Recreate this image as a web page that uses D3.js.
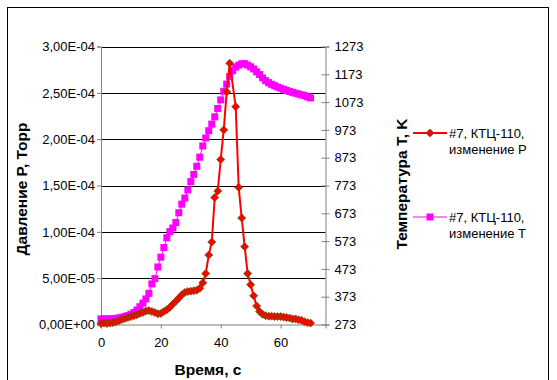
<!DOCTYPE html>
<html>
<head>
<meta charset="utf-8">
<script src="https://d3js.org/d3.v7.min.js"></script>
<style>
    body { margin: 0; background: #fff; }
    text { font-family: "Liberation Sans", Arial, sans-serif; fill: #000; }
    .title { font-weight: bold; font-size: 15.5px; }
</style>
</head>
<body>
<svg width="557" height="380"></svg>
<script>
// time, s
var timeP = [0,1,2,3,4,5,6,7,8,9,10,11,12,13,14,15,16,17,18,19,20,21,22,23,24,25,26,27,28,29,
    30,31,32,33,34,35,36,37,38,39,40,41,42,43,45,46,47,48,49,50,51,52,53,54,55,56,57,58,59,
    60,61,62,63,64,65,66,67,68,69,70];
// pressure, Torr
var pressure = [1.0e-6,1.5e-6,1.0e-6,1.5e-6,2.0e-6,3.0e-6,4.0e-6,5.5e-6,6.5e-6,7.5e-6,8.5e-6,9.5e-6,
    1.05e-5,1.2e-5,1.3e-5,1.45e-5,1.5e-5,1.4e-5,1.3e-5,1.15e-5,1.2e-5,1.4e-5,1.6e-5,1.85e-5,2.2e-5,
    2.5e-5,2.85e-5,3.2e-5,3.45e-5,3.55e-5,3.6e-5,3.65e-5,3.7e-5,3.9e-5,4.5e-5,5.5e-5,7.5e-5,8.9e-5,
    1.37e-4,1.44e-4,1.78e-4,2.10e-4,2.51e-4,2.82e-4,2.35e-4,1.48e-4,1.15e-4,8.4e-5,5.5e-5,4.3e-5,
    3.1e-5,2.0e-5,1.4e-5,1.1e-5,9.5e-6,9.0e-6,9.0e-6,8.5e-6,8.5e-6,8.5e-6,8.0e-6,7.5e-6,7.0e-6,
    6.0e-6,6.0e-6,5.0e-6,4.5e-6,3.0e-6,2.0e-6,1.5e-6];

var timeT = d3.range(0, 71);
// temperature, K
var temperature = [293,293,293,293,294,295,297,299,302,305,310,316,325,337,350,365,385,419,438,480,
    515,550,585,607,620,640,675,706,728,757,787,813,842,875,915,944,970,994,1020,1050,
    1081,1112,1138,1165,1186,1199,1206,1211,1211,1206,1200,1192,1182,1172,1160,1150,1143,1137,1132,1127,
    1123,1119,1115,1111,1108,1105,1102,1099,1096,1092,1088];

var xTicks = [0, 20, 40, 60];
var pTicks = [0, 5e-5, 1e-4, 1.5e-4, 2e-4, 2.5e-4, 3e-4];
var tTicks = [273, 373, 473, 573, 673, 773, 873, 973, 1073, 1173, 1273];
var seriesNames = [["#7, КТЦ-110,", "изменение P"], ["#7, КТЦ-110,", "изменение T"]];

var svg = d3.select("svg");
var plotL = 101, plotR = 325.5, plotT = 46.5, plotB = 324.5;

var x = d3.scaleLinear().domain([0, 75]).range([plotL, plotR]);
var yP = d3.scaleLinear().domain([0, 3e-4]).range([plotB, plotT]);
var yT = d3.scaleLinear().domain([273, 1273]).range([plotB, plotT]);

function sci(v) {
    var s = d3.format(".2e")(v).split("e");
    var e = +s[1];
    return s[0].replace(".", ",") + "E" + (e < 0 ? "-" : "+") + d3.format("02")(Math.abs(e));
}

// outer frame
svg.append("rect")
    .attr("x", 7.5).attr("y", 7.5)
    .attr("width", 541).attr("height", 400)
    .attr("fill", "none").attr("stroke", "#000").attr("stroke-width", 1);

// gridlines
svg.append("g").selectAll("line")
    .data(pTicks.slice(1))
    .enter().append("line")
    .attr("x1", plotL).attr("x2", plotR)
    .attr("y1", function (d) { return Math.round(yP(d)) + 0.5; })
    .attr("y2", function (d) { return Math.round(yP(d)) + 0.5; })
    .attr("stroke", "#000");

// axes
var axP = svg.append("g")
    .attr("transform", "translate(" + plotL + ",0)")
    .call(d3.axisLeft(yP).tickValues(pTicks).tickFormat(sci).tickSize(4).tickPadding(2));
var axT = svg.append("g")
    .attr("transform", "translate(" + plotR + ",0)")
    .call(d3.axisRight(yT).tickValues(tTicks).tickFormat(d3.format("d")).tickSize(4).tickPadding(5));
axT.selectAll(".tick line").attr("x1", -4);
var axX = svg.append("g")
    .attr("transform", "translate(0," + plotB + ")")
    .call(d3.axisBottom(x).tickValues(xTicks).tickSize(4).tickPadding(9));
[axP, axT, axX].forEach(function (a) {
    a.select(".domain").attr("stroke", "#808080");
    a.selectAll(".tick line").attr("stroke", "#808080");
    a.selectAll(".tick text").attr("font-size", 13).attr("font-family", "Liberation Sans, Arial, sans-serif");
});

// temperature series
var lineT = d3.line()
    .x(function (d, i) { return x(timeT[i]); })
    .y(function (d) { return yT(d); });
svg.append("path")
    .datum(temperature)
    .attr("d", lineT)
    .attr("fill", "none").attr("stroke", "#FF00FF").attr("stroke-width", 1);
svg.append("g").selectAll("rect")
    .data(temperature)
    .enter().append("rect")
    .attr("x", function (d, i) { return x(timeT[i]) - 3.5; })
    .attr("y", function (d) { return yT(d) - 3.5; })
    .attr("width", 7).attr("height", 7)
    .attr("fill", "#FF00FF");

// pressure series
var lineP = d3.line()
    .x(function (d, i) { return x(timeP[i]); })
    .y(function (d) { return yP(d); });
svg.append("path")
    .datum(pressure)
    .attr("d", lineP)
    .attr("fill", "none").attr("stroke", "#FF0000").attr("stroke-width", 2);
var diamond = "M0,-4L4,0L0,4L-4,0Z";
svg.append("g").selectAll("path")
    .data(pressure)
    .enter().append("path")
    .attr("d", diamond)
    .attr("transform", function (d, i) { return "translate(" + x(timeP[i]) + "," + yP(d) + ")"; })
    .attr("fill", "#FF0000").attr("stroke", "#665500").attr("stroke-width", 0.8);

// titles
svg.append("text").attr("class", "title")
    .attr("transform", "translate(" + 27 + "," + 189 + ") rotate(-90)")
    .attr("text-anchor", "middle")
    .text("Давление P, Торр");
svg.append("text").attr("class", "title")
    .attr("transform", "translate(" + 406.5 + "," + 184 + ") rotate(-90)")
    .attr("text-anchor", "middle")
    .text("Температура T, K");
svg.append("text").attr("class", "title")
    .attr("x", 208).attr("y", 375)
    .attr("text-anchor", "middle")
    .text("Время, с");

// legend
var legY = [133, 217];
var leg = svg.append("g");
leg.append("line").attr("x1", 413).attr("x2", 447).attr("y1", legY[0]).attr("y2", legY[0])
    .attr("stroke", "#FF0000").attr("stroke-width", 2);
leg.append("path").attr("d", diamond)
    .attr("transform", "translate(430," + legY[0] + ")")
    .attr("fill", "#FF0000").attr("stroke", "#665500").attr("stroke-width", 0.8);
leg.append("line").attr("x1", 413).attr("x2", 447).attr("y1", legY[1]).attr("y2", legY[1])
    .attr("stroke", "#FF00FF").attr("stroke-width", 1);
leg.append("rect").attr("x", 426.5).attr("y", legY[1] - 3.5).attr("width", 7).attr("height", 7)
    .attr("fill", "#FF00FF");
seriesNames.forEach(function (n, i) {
    var t = leg.append("text").attr("x", 449).attr("y", legY[i] + 5).attr("font-size", 13);
    t.append("tspan").attr("x", 449).text(n[0]);
    t.append("tspan").attr("x", 449).attr("dy", 16).text(n[1]);
});
</script>
</body>
</html>
